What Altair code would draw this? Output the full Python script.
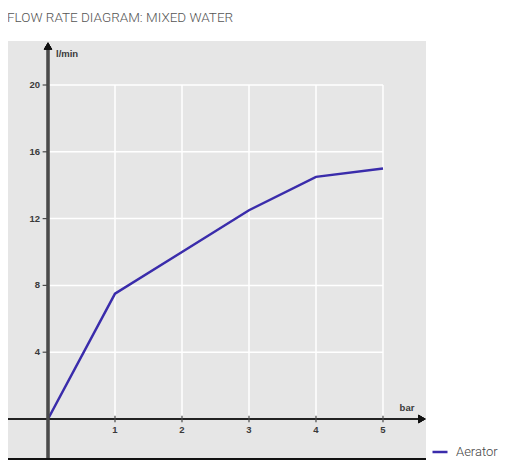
import altair as alt
import pandas as pd

# data
pressure_bar = [0, 1, 2, 3, 4, 5]
flow_lmin = [0, 7.5, 10, 12.5, 14.5, 15]
series = ["Aerator"] * 6
x_ticks = [1, 2, 3, 4, 5]
y_ticks = [4, 8, 12, 16, 20]

df = pd.DataFrame({"bar": pressure_bar, "flow": flow_lmin, "series": series})
xt = pd.DataFrame({"v": x_ticks})
yt = pd.DataFrame({"v": y_ticks})

W, H = 418, 419
xs = alt.Scale(domain=[-0.597, 5.642], nice=False, zero=False)
ys = alt.Scale(domain=[-2.455, 22.635], nice=False, zero=False)
AX = "#4a4a4a"
LBL = dict(font="Liberation Sans", fontSize=9.5, fontWeight="bold", color="#3a3a3a")


def X(f):
    return alt.X(f, type="quantitative", scale=xs, axis=None)


def Y(f):
    return alt.Y(f, type="quantitative", scale=ys, axis=None)


xbase = alt.Chart(xt).transform_calculate(zero="0", top="20", lo="-0.2", hi="0.2")
ybase = alt.Chart(yt).transform_calculate(zero="0", right="5", lo="-0.08")

vgrid = xbase.mark_rule(color="white", strokeWidth=1.5).encode(
    x=X("v"), y=Y("zero"), y2="top:Q")
hgrid = ybase.mark_rule(color="white", strokeWidth=1.5).encode(
    y=Y("v"), x=X("zero"), x2="right:Q")

line = alt.Chart(df).mark_line(strokeWidth=2.5).encode(
    x=X("bar"), y=Y("flow"),
    color=alt.Color("series:N", scale=alt.Scale(domain=["Aerator"], range=["#3a2cab"]),
                    legend=alt.Legend(orient="none", legendX=423, legendY=402, title=None,
                                      symbolType="stroke", symbolSize=225,
                                      symbolStrokeWidth=2.5, labelFontSize=13,
                                      labelFont="Roboto", labelFontWeight=300,
                                      labelColor="#444", labelOffset=7)))

xaxis = ybase.mark_rule(color="#222", strokeWidth=2).encode(
    x=alt.value(0), x2=alt.value(412), y=Y("zero"))
yaxis = xbase.mark_rule(color=AX, strokeWidth=2.5).encode(
    x=X("zero"), y=alt.value(6), y2=alt.value(H))
bottom = xbase.mark_rule(color="#111", strokeWidth=2).encode(
    x=alt.value(0), x2=alt.value(W), y=alt.value(H - 1))
arrow_x = ybase.mark_point(shape="triangle-right", filled=True, size=70,
                           color="#111", opacity=1).encode(
    x=alt.value(414), y=Y("zero"))
arrow_y = xbase.mark_point(shape="triangle-up", filled=True, size=70,
                           color="#111", opacity=1).encode(
    x=X("zero"), y=alt.value(5))

xtick = xbase.mark_rule(color=AX, strokeWidth=1.2).encode(
    x=X("v"), y=Y("lo"), y2="hi:Q")
ytick = ybase.mark_rule(color=AX, strokeWidth=1.2).encode(
    y=Y("v"), x=X("lo"), x2="zero:Q")
xlab = xbase.mark_text(baseline="top", dy=6, **LBL).encode(
    x=X("v"), y=Y("zero"), text="v:Q")
ylab = ybase.mark_text(align="right", baseline="middle", dx=-8, **LBL).encode(
    x=X("zero"), y=Y("v"), text="v:Q")
ytitle = alt.Chart(pd.DataFrame({"t": ["l/min"]})).transform_calculate(zero="0").mark_text(
    align="left", baseline="middle", dx=8, **LBL).encode(
    x=X("zero"), y=alt.value(13), text="t:N")
xtitle = alt.Chart(pd.DataFrame({"t": ["bar"]})).transform_calculate(zero="0").mark_text(
    align="center", baseline="bottom", dy=-6, **LBL).encode(
    x=alt.value(399), y=Y("zero"), text="t:N")

chart = alt.layer(vgrid, hgrid, line, xaxis, yaxis, bottom, arrow_x, arrow_y,
                  xtick, ytick, xlab, ylab, ytitle, xtitle).properties(
    width=W, height=H,
    autosize=alt.AutoSizeParams(type="none"),
    padding={"left": 0, "top": 33, "right": 74, "bottom": 0},
    title=alt.Title("FLOW RATE DIAGRAM: MIXED WATER", anchor="start", fontSize=13.5,
                    font="Roboto", fontWeight=300, color="#555", offset=17),
).configure_view(fill="#e6e6e6", stroke=None)

chart.save("out.html", embed_options={"renderer": "svg", "actions": False})
